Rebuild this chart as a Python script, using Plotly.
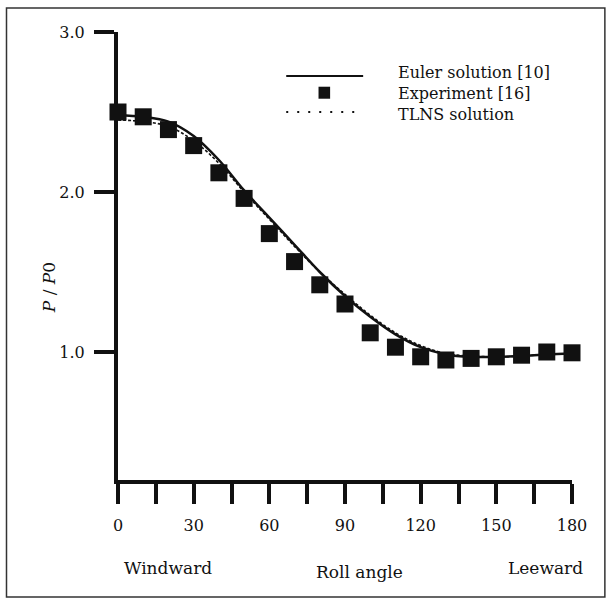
import plotly.graph_objects as go

# ---- data ----
angles = [0, 10, 20, 30, 40, 50, 60, 70, 80, 90, 100, 110, 120, 130, 140, 150, 160, 170, 180]
p_experiment = [2.50, 2.47, 2.39, 2.29, 2.12, 1.96, 1.74, 1.565, 1.42, 1.30, 1.12, 1.03, 0.97, 0.95, 0.96, 0.97, 0.98, 1.00, 0.995]
p_euler = [2.48, 2.47, 2.44, 2.35, 2.20, 2.01, 1.84, 1.67, 1.50, 1.35, 1.22, 1.11, 1.03, 0.985, 0.97, 0.97, 0.975, 0.985, 0.99]
p_tlns = [2.45, 2.44, 2.41, 2.32, 2.18, 2.00, 1.83, 1.66, 1.50, 1.36, 1.23, 1.12, 1.04, 0.99, 0.975, 0.97, 0.975, 0.985, 0.99]

x_tickvals = [0, 15, 30, 45, 60, 75, 90, 105, 120, 135, 150, 165, 180]
x_ticktext = ["0", "", "30", "", "60", "", "90", "", "120", "", "150", "", "180"]
y_tickvals = [1.0, 2.0, 3.0]
y_ticktext = ["1.0", "2.0", "3.0"]

legend_names = ["Euler solution [10]", "Experiment [16]", "TLNS solution"]

FONT = "DejaVu Serif"
INK = "#111111"

fig = go.Figure()
fig.add_trace(go.Scatter(x=angles, y=p_tlns, mode="lines",
                         line=dict(color=INK, width=1.6, dash="3px,2px", shape="spline", smoothing=1.0),
                         cliponaxis=False, showlegend=False))
fig.add_trace(go.Scatter(x=angles, y=p_euler, mode="lines",
                         line=dict(color=INK, width=2.5, shape="spline", smoothing=1.0),
                         cliponaxis=False, showlegend=False))
fig.add_trace(go.Scatter(x=angles, y=p_experiment, mode="markers",
                         marker=dict(symbol="square", size=17, color=INK, line=dict(width=0)),
                         cliponaxis=False, showlegend=False))

# manual legend (positions in data coordinates of the axes)
fig.add_shape(type="line", x0=66.7, x1=97.2, y0=2.725, y1=2.725, line=dict(color=INK, width=1.8))
fig.add_shape(type="rect", x0=79.5, x1=84.1, y0=2.583, y1=2.658, fillcolor=INK, line=dict(width=0))
fig.add_shape(type="line", x0=66.7, x1=94.5, y0=2.50, y1=2.50, line=dict(color=INK, width=2, dash="2px,9px"))
fig.add_annotation(x=110.3, y=2.615, text="<br>".join(legend_names), showarrow=False, xanchor="left",
                   yanchor="middle", align="left", font=dict(family=FONT, size=16, color=INK))

# axis caption texts
fig.add_annotation(xref="paper", yref="paper", x=-0.178, y=0.4286, text="<i>P</i> / <i>P</i>0",
                   textangle=-90, showarrow=False, font=dict(family=FONT, size=17, color=INK))
fig.add_annotation(xref="paper", yref="paper", x=0.009, y=-0.196, text="Windward", xanchor="left",
                   yanchor="middle", showarrow=False, font=dict(family=FONT, size=17, color=INK))
fig.add_annotation(xref="paper", yref="paper", x=0.533, y=-0.205, text="Roll angle", xanchor="center",
                   yanchor="middle", showarrow=False, font=dict(family=FONT, size=17, color=INK))
fig.add_annotation(xref="paper", yref="paper", x=1.0285, y=-0.196, text="Leeward", xanchor="right",
                   yanchor="middle", showarrow=False, font=dict(family=FONT, size=17, color=INK))

# outer frame
fig.add_shape(type="rect", xref="paper", yref="paper", x0=-0.2456, x1=1.0724, y0=-0.261, y1=1.0536,
              line=dict(color="#333333", width=1.5))

fig.update_xaxes(range=[0, 180], showline=True, linewidth=4, linecolor=INK, mirror=False,
                 ticks="outside", ticklen=20, tickwidth=3.5, tickcolor=INK,
                 tickvals=x_tickvals, ticktext=x_ticktext, ticklabelstandoff=8,
                 tickfont=dict(family=FONT, size=16, color=INK), showgrid=False, zeroline=False)
fig.update_yaxes(range=[0.2, 3.0], showline=True, linewidth=4, linecolor=INK, mirror=False,
                 ticks="outside", ticklen=20, tickwidth=4, tickcolor=INK,
                 tickvals=y_tickvals, ticktext=y_ticktext, ticklabelstandoff=6,
                 tickfont=dict(family=FONT, size=16, color=INK), showgrid=False, zeroline=False)

fig.update_layout(width=610, height=604, margin=dict(l=118, r=38, t=32, b=124),
                  paper_bgcolor="white", plot_bgcolor="white", showlegend=False)

fig.write_html("out.html")
